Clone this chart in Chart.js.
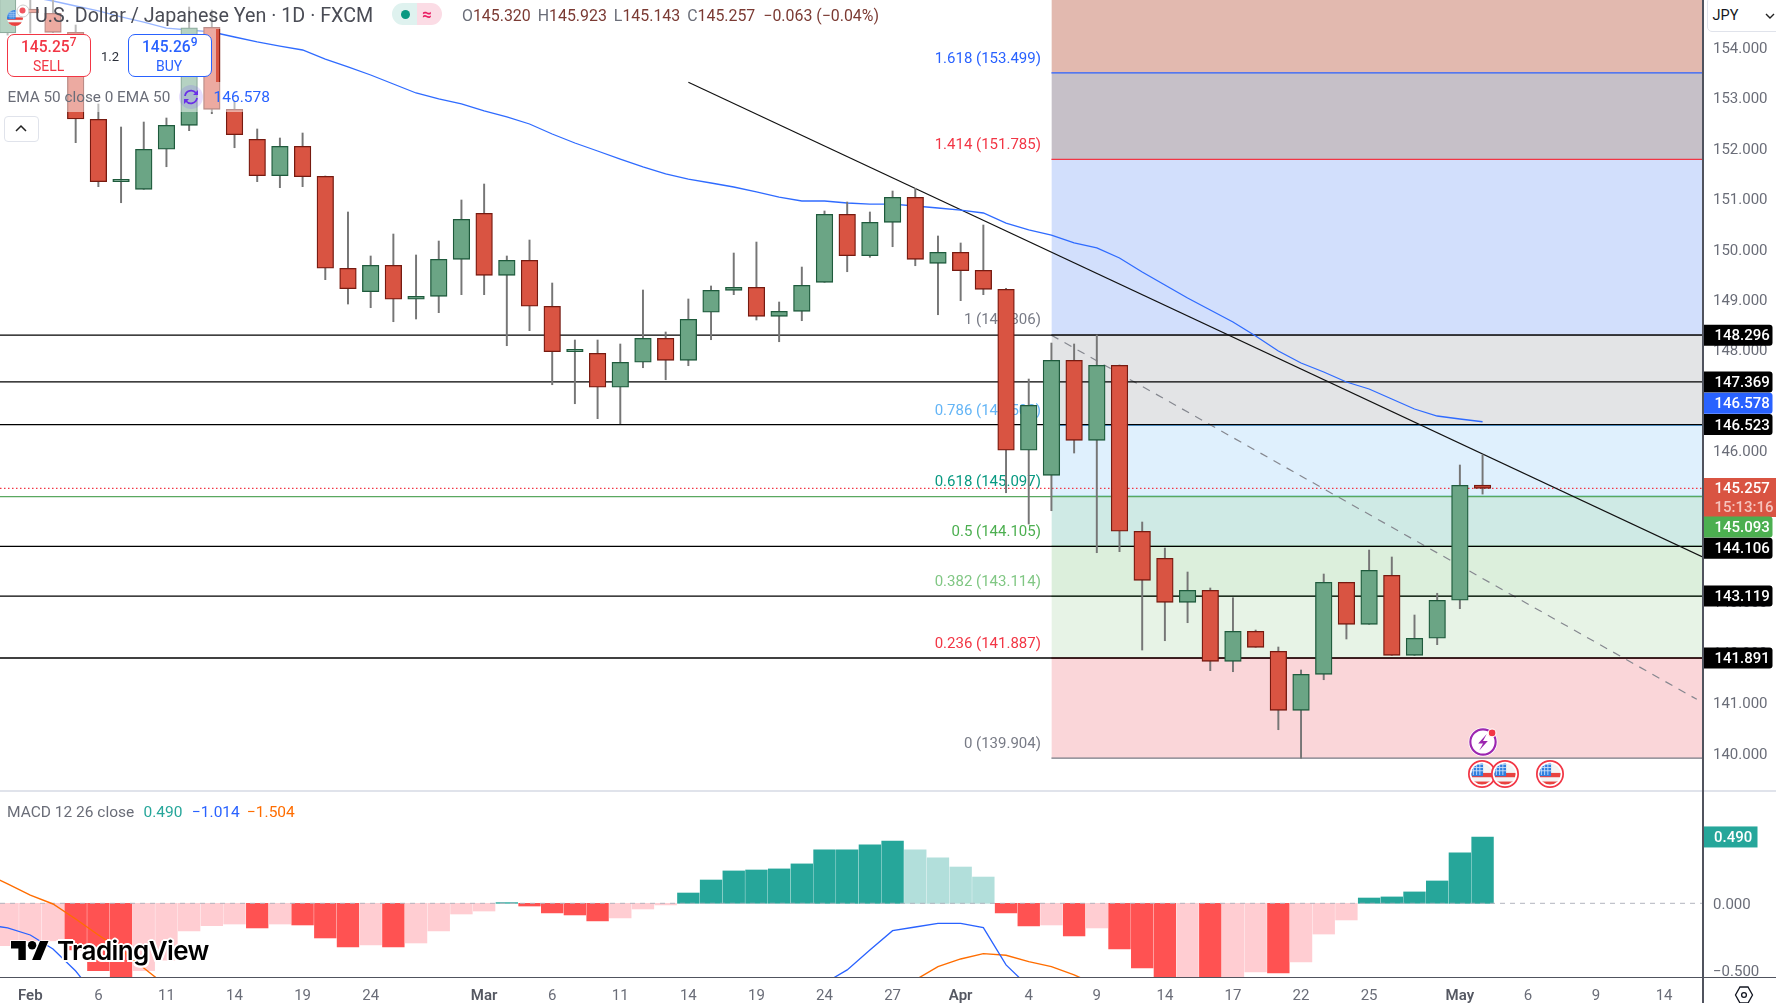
<!DOCTYPE html>
<html><head><meta charset="utf-8">
<style>
html,body{margin:0;padding:0;background:#fff;width:1776px;height:1003px;overflow:hidden;font-family:Roboto,sans-serif}
canvas{position:absolute;left:0}
.t{position:absolute;white-space:nowrap;transform:translateY(-50%);line-height:1}
.o{position:absolute}
</style>
<script src="https://cdn.jsdelivr.net/npm/chart.js@4"></script>
</head><body>
<canvas id="price" width="1776" height="790" style="top:0;width:1776px;height:790px"></canvas>
<canvas id="macd" width="1776" height="213" style="top:790px;width:1776px;height:213px"></canvas>
<div id="ui"></div>
<script>
const tickIndex=[1,4,7,10,13,16,21,24,27,30,33,36,39,42,45,48,51,54,57,60,64,67,70,73];
const tickLabels=['Feb','6','11','14','19','24','Mar','6','11','14','19','24','27','Apr','4','9','14','17','22','25','May','6','9','14'];
const priceTicks=[154,153,152,151,150,149,148,147,146,145,144,143,142,141,140];
const opens=[154.291,154.767,154.682,154.305,152.579,151.341,151.190,151.984,152.460,154.404,152.777,152.182,151.460,152.043,151.448,149.623,149.158,149.682,149.008,149.067,149.801,150.714,149.484,149.781,148.869,147.968,147.936,147.262,147.758,148.234,147.797,148.750,149.186,149.246,148.670,148.769,149.345,150.694,149.873,150.535,151.031,149.722,149.940,149.583,149.206,146.012,145.515,147.797,146.210,147.698,144.405,143.869,142.996,143.234,141.825,142.420,142.024,140.853,141.567,143.393,142.559,143.532,141.944,142.282,143.036,145.320];
const highs=[155.24,155.00,155.00,154.450,152.883,152.426,152.525,152.605,154.807,154.748,152.942,152.387,152.208,152.307,151.454,150.740,149.867,150.303,149.887,150.164,150.978,151.295,149.867,150.184,149.331,148.200,148.200,148.121,149.192,148.359,149.014,149.272,149.926,150.144,148.954,149.648,150.760,150.938,150.740,151.156,151.210,150.264,150.125,150.482,149.226,147.426,148.140,148.121,148.299,147.704,144.589,144.073,143.597,143.280,143.087,142.446,142.109,141.653,143.557,143.393,144.033,143.895,142.744,143.175,145.720,145.923];
const lows=[154.25,154.291,154.30,152.115,151.242,150.924,151.190,151.638,152.353,152.690,152.015,151.341,151.222,151.242,149.397,148.914,148.841,148.563,148.617,148.742,149.099,149.099,148.087,148.385,147.313,146.936,146.639,146.539,147.650,147.412,147.690,148.206,149.099,148.597,148.166,148.583,149.345,149.555,149.841,150.051,149.674,148.702,148.980,149.099,145.170,144.549,144.813,145.958,143.980,144.000,142.049,142.234,142.591,141.639,141.619,142.103,140.468,139.901,141.460,142.268,142.559,141.944,141.944,142.155,142.869,145.143];
const closes=[155.14,154.688,154.305,152.585,151.341,151.388,151.984,152.460,154.396,152.777,152.273,151.460,152.043,151.440,149.623,149.218,149.682,149.008,149.067,149.801,150.595,149.484,149.781,148.869,147.968,148.016,147.262,147.758,148.234,147.797,148.611,149.186,149.246,148.670,148.769,149.285,150.694,149.873,150.535,151.031,149.801,149.940,149.575,149.206,146.012,146.904,147.797,146.210,147.698,144.405,143.432,142.996,143.234,141.825,142.420,142.103,140.853,141.567,143.393,142.559,143.631,141.944,142.282,143.036,145.317,145.257];
const ema50=[155.105,155.005,154.926,154.827,154.728,154.609,154.509,154.390,154.351,154.311,154.212,154.113,154.033,153.954,153.775,153.617,153.458,153.279,153.101,152.982,152.883,152.744,152.625,152.486,152.287,152.109,151.950,151.791,151.633,151.494,151.394,151.315,151.236,151.137,151.037,150.958,150.958,150.918,150.898,150.898,150.859,150.819,150.779,150.720,150.521,150.383,150.283,150.125,150.026,149.827,149.549,149.291,149.033,148.795,148.557,148.279,147.982,147.744,147.565,147.367,147.228,147.030,146.831,146.692,146.633,146.578];
const fibRatios=['1.618','1.414','1','0.786','0.618','0.5','0.382','0.236','0'];
const fibLevels=[153.499,151.785,148.306,146.508,145.097,144.105,143.114,141.887,139.904];
const levelLines=[148.296,147.369,146.523,144.106,143.119,141.891];
const lastPrice=145.257, bidLine=145.093;
const tagValues=[148.296,147.369,146.578,146.523,145.257,145.093,144.106,143.119,141.891];
const trendX=[30,74.67], trendY=[153.313,143.901];
const dashX=[46,74.44], dashY=[148.296,141.071];
const macdHist=[-0.313,-0.278,-0.277,-0.345,-0.498,-0.59,-0.498,-0.42,-0.204,-0.165,-0.153,-0.182,-0.153,-0.16,-0.256,-0.323,-0.308,-0.323,-0.293,-0.204,-0.079,-0.057,0.005,-0.020,-0.071,-0.086,-0.130,-0.108,-0.042,-0.012,0.076,0.172,0.239,0.246,0.254,0.291,0.394,0.395,0.431,0.460,0.394,0.335,0.268,0.194,-0.071,-0.167,-0.160,-0.241,-0.182,-0.337,-0.478,-0.60,-0.57,-0.60,-0.547,-0.507,-0.515,-0.433,-0.227,-0.123,0.039,0.047,0.084,0.165,0.372,0.490];
/* first entry of these two belongs to the session just left of the visible edge */
const macdLine=[-0.155,-0.182,-0.234,-0.337,-0.500,-0.71,-0.86,-0.98,-1.08,-1.10,-1.12,-1.14,-1.17,-1.18,-1.20,-1.26,-1.33,-1.38,-1.42,-1.46,-1.44,-1.38,-1.30,-1.22,-1.22,-1.24,-1.28,-1.32,-1.30,-1.24,-1.15,-1.03,-0.90,-0.81,-0.74,-0.68,-0.63,-0.59,-0.492,-0.345,-0.202,-0.175,-0.148,-0.148,-0.180,-0.455,-0.616,-0.79,-0.93,-1.08,-1.27,-1.45,-1.61,-1.72,-1.85,-1.90,-1.93,-1.98,-1.95,-1.83,-1.72,-1.60,-1.50,-1.40,-1.25,-1.12,-1.014];
const signalLine=[0.225,0.143,0.061,-0.005,-0.116,-0.234,-0.345,-0.478,-0.61,-0.72,-0.80,-0.86,-0.93,-0.99,-1.03,-1.08,-1.12,-1.16,-1.19,-1.22,-1.24,-1.25,-1.25,-1.25,-1.25,-1.24,-1.22,-1.21,-1.18,-1.14,-1.10,-1.06,-1.02,-0.98,-0.94,-0.90,-0.86,-0.82,-0.78,-0.72,-0.64,-0.566,-0.468,-0.411,-0.372,-0.384,-0.431,-0.468,-0.529,-0.603,-0.72,-0.85,-1.00,-1.13,-1.25,-1.35,-1.43,-1.50,-1.55,-1.60,-1.62,-1.64,-1.63,-1.62,-1.58,-1.54,-1.504];

const XMIN=-0.335,XMAX=74.67,AXIS_W=74;
const FONT='Roboto, sans-serif';
const fibColors=['#2962ff','#f23645','#787b86','#64b5f6','#089981','#4caf50','#81c784','#f23645','#787b86'];
const zoneColors=['#e2b9af','#c6c0c8','#d2dffc','#e3e4e6','#dff0fd','#cfeae5','#dcefdc','#e7f3e6','#fad6d9'];
const span=(ys)=>[{x:XMIN,y:ys},{x:XMAX,y:ys}];
const lineBase={type:'line',pointRadius:0,tension:0,fill:false};

/* price chart datasets */
const pDs=[];
fibLevels.forEach((lv,i)=>{
  pDs.push({...lineBase,order:50,data:[{x:46,y:lv},{x:XMAX,y:lv}],borderColor:fibColors[i],borderWidth:1.2,
    fill:false});
});
const zoneEdges=[160,...fibLevels];
zoneColors.forEach((c,i)=>{
  pDs.push({...lineBase,order:60,data:[{x:46,y:zoneEdges[i+1]},{x:XMAX,y:zoneEdges[i+1]}],borderWidth:0,borderColor:'transparent',
    backgroundColor:c,fill:{value:zoneEdges[i]}});
});
pDs.push({...lineBase,order:45,data:dashX.map((x,i)=>({x,y:dashY[i]})),borderColor:'#85878f',borderWidth:1.2,borderDash:[8,7]});
levelLines.forEach(v=>pDs.push({...lineBase,order:40,data:span(v),borderColor:'#000',borderWidth:1.3}));
pDs.push({...lineBase,order:41,data:span(bidLine),borderColor:'#5aa860',borderWidth:1.2});
pDs.push({...lineBase,order:41,data:span(lastPrice),borderColor:'#f23645',borderWidth:1.2,borderDash:[1.5,2.5]});
pDs.push({...lineBase,order:36,data:trendX.map((x,i)=>({x,y:trendY[i]})),borderColor:'#111',borderWidth:1.2});
pDs.push({...lineBase,order:35,data:ema50.map((y,x)=>({x,y})),borderColor:'#2f6bff',borderWidth:1.3});
const up=closes.map((c,i)=>c>=opens[i]);
pDs.push({type:'bar',order:30,grouped:false,barThickness:1.3,data:highs.map((h,i)=>({x:i,y:[lows[i],h]})),backgroundColor:'#767676',borderWidth:0});
pDs.push({type:'bar',order:20,grouped:false,barThickness:16.6,data:opens.map((o,i)=>({x:i,y:[o,closes[i]]})),
  backgroundColor:up.map(u=>u?'#6ba585':'#d95442'),borderColor:up.map(u=>u?'#1e5a3c':'#761a10'),borderWidth:1.3,borderSkipped:false});

const fibLabelPlugin={id:'fibLabels',beforeDatasetsDraw(c){
  const g=c.ctx,y=c.scales.y,x=c.scales.x;g.save();g.font='15px '+FONT;g.textAlign='right';g.textBaseline='middle';
  const tx=x.getPixelForValue(46)-10.5;
  fibRatios.forEach((r,i)=>{g.fillStyle=fibColors[i];g.fillText(r+' ('+fibLevels[i].toFixed(3)+')',tx,y.getPixelForValue(fibLevels[i])-14);});
  g.restore();
}};
function tag(g,x,yc,w,h,color,text,textColor){
  g.fillStyle=color;g.beginPath();g.roundRect(x,yc-h/2,w,h,[0,3,3,0]);g.fill();
  g.fillStyle=textColor;g.font='500 15px '+FONT;g.textAlign='left';g.textBaseline='middle';g.fillText(text,x+12,yc+1.3);
}
const tagPlugin={id:'tags',afterDraw(c){
  const g=c.ctx,y=c.scales.y,xa=c.chartArea.right+.5;g.save();
  const nudge={146.578:-18.5,145.093:30.5,144.106:2};
  tagValues.forEach(v=>{
    const yc=y.getPixelForValue(v)+(nudge[v]||0);
    if(v===lastPrice){
      g.fillStyle='#d95442';g.fillRect(xa,478,1776-xa,39);
      g.fillStyle='#fff';g.font='500 15px '+FONT;g.textAlign='left';g.textBaseline='middle';g.fillText(v.toFixed(3),xa+12,489.5);
      g.fillStyle='#f6c4bd';g.fillText('15:13:16',xa+12,508);
      return;
    }
    const col=v===146.578?'#2962ff':v===bidLine?'#4caf50':'#000';
    tag(g,xa,yc,70,21,col,v.toFixed(3),'#fff');
  });
  g.restore();
}};
new Chart(document.getElementById('price'),{type:'bar',data:{datasets:pDs},plugins:[fibLabelPlugin,tagPlugin],options:{
  responsive:false,animation:false,devicePixelRatio:1,layout:{padding:0},
  plugins:{legend:{display:false},tooltip:{enabled:false}},
  scales:{
    x:{type:'linear',display:false,min:XMIN,max:XMAX,offset:false,grid:{display:false}},
    y:{type:'linear',position:'right',min:139.272,max:154.946,
      grid:{display:false,drawTicks:false},border:{display:false},
      afterBuildTicks:s=>{s.ticks=priceTicks.map(value=>({value}));},
      afterFit:s=>{s.width=AXIS_W;s.paddingTop=0;s.paddingBottom=0;},
      ticks:{padding:11,autoSkip:false,color:'#6a6d78',font:{family:FONT,size:15,lineHeight:.2},callback:v=>['',v.toFixed(3)]}}
  }}});

/* MACD */
const isMonth=c=>!!c&&!!c.tick&&/^[A-Z]/.test(tickLabels[tickIndex.indexOf(c.tick.value)]||'');
const histColor=macdHist.map((v,i)=>{const p=i?macdHist[i-1]:v; return v>=0?(v>=p?'#26a69a':'#b2dfdb'):(v<p?'#ff5252':'#ffcdd2');});
const macdTag={id:'macdTag',afterDraw(c){const g=c.ctx;g.save();
  const yc=c.scales.y.getPixelForValue(macdHist[macdHist.length-1]);
  g.fillStyle='#26a69a';g.fillRect(1702.5,yc-10.5,55,21);
  g.fillStyle='#fff';g.font='500 15px '+FONT;g.textAlign='left';g.textBaseline='middle';g.fillText('0.490',1714,yc+1.3);
  g.restore();}};
new Chart(document.getElementById('macd'),{type:'bar',plugins:[macdTag],data:{datasets:[
  {...lineBase,order:1,data:macdLine.map((y,i)=>({x:i-1,y})),borderColor:'#2962ff',borderWidth:1.3},
  {...lineBase,order:2,data:signalLine.map((y,i)=>({x:i-1,y})),borderColor:'#ff6d00',borderWidth:1.4},
  {...lineBase,order:3,data:span(0),borderColor:'#b2b5be',borderWidth:1,borderDash:[5,5]},
  {type:'bar',order:4,grouped:false,barThickness:21.7,data:macdHist.map((y,x)=>({x,y})),backgroundColor:histColor,borderWidth:0}
]},options:{
  responsive:false,animation:false,devicePixelRatio:1,layout:{padding:0},
  plugins:{legend:{display:false},tooltip:{enabled:false}},
  scales:{
    x:{type:'linear',min:XMIN,max:XMAX,offset:false,grid:{display:false,drawTicks:false},border:{display:false},
      afterBuildTicks:s=>{s.ticks=tickIndex.map(value=>({value}));},
      afterFit:s=>{s.height=26;s.paddingLeft=0;s.paddingRight=0;},
      ticks:{autoSkip:false,maxRotation:0,padding:10,
        color:c=>isMonth(c)?'#555862':'#6a6d78',
        font:c=>({family:FONT,size:15,weight:isMonth(c)?'600':'400'}),
        callback:v=>tickLabels[tickIndex.indexOf(v)]}},
    y:{type:'linear',position:'right',min:-0.5443,max:0.8368,
      grid:{display:false,drawTicks:false},border:{display:false},
      afterBuildTicks:s=>{s.ticks=[0,-0.5].map(value=>({value}));},
      afterFit:s=>{s.width=AXIS_W;s.paddingTop=0;s.paddingBottom=0;},
      ticks:{padding:11,autoSkip:false,color:'#6a6d78',font:{family:FONT,size:15,lineHeight:.2},callback:v=>['',v.toFixed(3).replace('-','\u2212')]}}
  }}});

/* page furniture */
const ui=document.getElementById('ui');
function add(html){ui.insertAdjacentHTML('beforeend',html);}
function box(x,y,w,h,css){add(`<div class="o" style="left:${x}px;top:${y}px;width:${w}px;height:${h}px;${css}"></div>`);}
function txt(x,y,s,css){add(`<div class="t" style="left:${x}px;top:${y}px;${css}">${s}</div>`);}
box(0,790,1776,1.5,'background:#e0e3eb');
box(0,976.5,1776,1.5,'background:#50535e');
box(1702,0,1.5,1003,'background:#50535e');
/* translucent legend backing */
box(0,0,375,29,'background:rgba(255,255,255,.5)');
box(0,29,216,53,'background:rgba(255,255,255,.5)');
box(0,82,272,30,'background:rgba(255,255,255,.5)');
const flag=(cx,cy,r,ring)=>`<svg class="o" style="left:${cx-r}px;top:${cy-r}px" width="${2*r}" height="${2*r}" viewBox="0 0 26 26"><defs><clipPath id="c${cx}"><circle cx="13" cy="13" r="${ring?9.8:13}"/></clipPath></defs>${ring?'<circle cx="13" cy="13" r="12.2" fill="#fff" stroke="#f23645" stroke-width="1.6"/>':''}<g clip-path="url(#c${cx})"><rect width="26" height="26" fill="#f4f4f4"/><rect y="12" width="26" height="4" fill="#e9423f"/><rect y="20" width="26" height="6" fill="#e9423f"/><rect y="0" width="14" height="15" fill="#2f7fe0"/><path d="M2 4h12M2 7h12M2 10h12M5 2v12M8 2v12M11 2v12" stroke="#cfe3fa" stroke-width=".8"/></g></svg>`;
add(flag(15,18,8,false));
add('<svg class="o" style="left:15px;top:3px" width="16" height="16" viewBox="0 0 16 16"><circle cx="8" cy="8" r="6" fill="#fff" stroke="#ccc"/><circle cx="7.5" cy="7.5" r="3" fill="#f0555f"/></svg>');
txt(35,16,'U.S. Dollar / Japanese Yen · 1D · FXCM','font-size:19.7px;color:#4a4c55');
box(392,3,25,22,'background:#dff2ef;border-radius:11px 0 0 11px');
box(417,3,25,22,'background:#fbdce5;border-radius:0 11px 11px 0');
box(401,9.5,9,9,'background:#089981;border-radius:50%');
txt(422,14,'≈','font-size:17px;font-weight:700;color:#e91e63');
const ohlc=[['O','145.320'],['H','145.923'],['L','145.143'],['C','145.257']];
txt(462,15.5,ohlc.map(([k,v])=>`<span style="color:#6a6d78">${k}</span>${v}`).join('<span style="display:inline-block;width:7px"></span>')+'<span style="display:inline-block;width:8px"></span>−0.063 (−0.04%)','font-size:15.9px;color:#7b3a33');
box(6.5,34,82,41,'background:#fff;border:1.2px solid #f23645;border-radius:7px');
txt(21,48,'145.25<sup style="font-size:12px;line-height:0">7</sup>','font-size:15.6px;font-weight:500;color:#f23645');
txt(33,65.5,'SELL','font-size:14px;color:#f23645');
txt(101,55.5,'1.2','font-size:13px;color:#2a2e39');
box(127.5,34,82,41,'background:#fff;border:1.2px solid #2962ff;border-radius:7px');
txt(142,48,'145.26<sup style="font-size:12px;line-height:0">9</sup>','font-size:15.6px;font-weight:500;color:#2962ff');
txt(156,65.5,'BUY','font-size:14px;color:#2962ff');
txt(7.5,97.5,'EMA 50 close 0 EMA 50','font-size:15.3px;color:#6a6d78');
add('<svg class="o" style="left:179px;top:85px" width="24" height="24" viewBox="0 0 24 24"><circle cx="12" cy="12" r="12" fill="#7c4dff" opacity=".18"/><path d="M6 11a6.2 6.2 0 0 1 11-3l1 1M18 13a6.2 6.2 0 0 1-11 3l-1-1" fill="none" stroke="#6a2fe8" stroke-width="1.8"/><path d="M19 5v5h-5zM5 19v-5h5z" fill="#6a2fe8"/></svg>');
txt(213.5,97.5,'146.578','font-size:15.5px;color:#2962ff');
box(4,115.5,33,24,'background:#fff;border:1px solid #e0e3eb;border-radius:4px');
add('<svg class="o" style="left:14px;top:124px" width="14" height="8" viewBox="0 0 14 8"><path d="M2 7l5-5 5 5" fill="none" stroke="#222" stroke-width="1.5"/></svg>');
/* JPY selector */
box(1707,-3,80,33,'background:#fff;border:1px solid #e0e3eb;border-radius:5px');
txt(1712.5,16,'JPY','font-size:14.5px;color:#131722');
add('<svg class="o" style="left:1765px;top:13px" width="10" height="6" viewBox="0 0 10 6"><path d="M1 1l4 4 4-4" fill="none" stroke="#222" stroke-width="1.4"/></svg>');
/* events */
add('<svg class="o" style="left:1467.5px;top:727px" width="30" height="30" viewBox="0 0 28 28"><circle cx="14" cy="14" r="13.5" fill="#fff"/><circle cx="14" cy="14" r="11.8" fill="#fff" stroke="#9c27b0" stroke-width="2"/><path d="M17.5 6.5l-8 9h4.5l-3.5 6.5 8-9h-4.5z" fill="#9c27b0"/><circle cx="22.5" cy="5.5" r="3.6" fill="#f23645" stroke="#fff"/></svg>');
add(flag(1482,774,14,true));add(flag(1505,774,14,true));add(flag(1550,774,14,true));
/* MACD legend */
txt(7,813,'MACD 12 26 close','font-size:15.5px;color:#6a6d78');
txt(143.5,813,'0.490','font-size:15.5px;color:#26a69a');
txt(192,813,'−1.014','font-size:15.5px;color:#2962ff');
txt(247,813,'−1.504','font-size:15.5px;color:#ff6d00');
/* TradingView mark */
add('<svg class="o" style="left:11px;top:940.5px;overflow:visible" width="38" height="19" viewBox="0 4 36 18"><g fill="#000" stroke="#fff" stroke-width="1.6" paint-order="stroke"><path d="M14 22H7V11H0V4h14v18zM28 22h-8l7.5-18h8L28 22z"/><circle cx="20" cy="8" r="4"/></g></svg>');
txt(57,951,'TradingView','font-family:Inter,sans-serif;font-size:26px;font-weight:600;letter-spacing:-.6px;color:#000;text-shadow:2px 0 #fff,-2px 0 #fff,0 2px #fff,0 -2px #fff,1.5px 1.5px #fff,-1.5px 1.5px #fff,1.5px -1.5px #fff,-1.5px -1.5px #fff');
add('<svg class="o" style="left:1734px;top:985px" width="20" height="20" viewBox="0 0 20 20"><path d="M6 2h8l4.5 8-4.5 8H6L1.5 10z" fill="none" stroke="#131722" stroke-width="1.3"/><circle cx="10" cy="10" r="2.4" fill="none" stroke="#131722" stroke-width="1.3"/></svg>');
</script>
</body></html>
